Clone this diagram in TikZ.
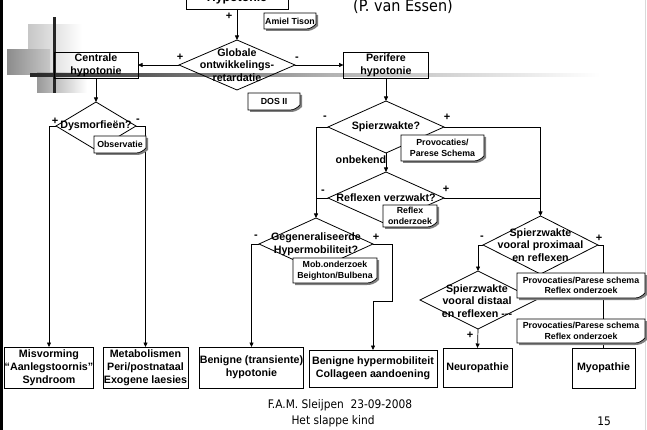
\documentclass[tikz,border=0pt]{standalone}
\usepackage{fontspec}
\setmainfont{Liberation Sans}
\newfontfamily\tah{DejaVu Sans Condensed}
\usetikzlibrary{shapes.geometric,arrows.meta,calc}
\tikzset{
 box/.style={draw, line width=0.8pt, align=center, font=\bfseries\fontsize{10.7}{12.8}\selectfont, inner sep=0pt, outer sep=0pt},
 dia/.style={draw, diamond, line width=0.8pt, inner sep=0pt, outer sep=0pt},
 dtxt/.style={align=center, font=\bfseries\fontsize{10.7}{12.8}\selectfont, inner sep=0pt},
 sign/.style={font=\bfseries\fontsize{11}{11}\selectfont, inner sep=0pt},
 conn/.style={line width=0.7pt},
 arr/.style={conn, -{Triangle[length=4.5pt,width=4pt]}},
 ntxt/.style={align=center, font=\bfseries\fontsize{8.8}{10.5}\selectfont, inner sep=0pt},
 foot/.style={font=\tah\fontsize{11.8}{13}\selectfont, inner sep=0pt},
}
\newcommand\mynote[6]{%
 \fill[black!50] (#2+2,#3+2) -- (#4+2,#3+2) -- (#4+2,#5-3) .. controls (#4-2,#5+1) and (#4-6,#5+2) .. (#4-10,#5+2) -- (#2+2,#5+2) -- cycle;
 \filldraw[fill=white, line width=0.7pt] (#2,#3) -- (#4,#3) -- (#4,#5-5) .. controls (#4-3,#5-2) and (#4-6,#5) .. (#4-10,#5) -- (#2,#5) -- cycle;
 \node[ntxt] (#1) at ({(#2+#4)/2},{(#3+#5)/2}) {#6};
}
\begin{document}
\begin{tikzpicture}[x=1pt,y=-1pt]
\path[use as bounding box] (0,0) rectangle (647,430);
\clip (0,0) rectangle (647,430);
\fill[white] (0,0) rectangle (647,430);
% slide template decoration
\fill[black] (0,0) rectangle (2.5,430);
\draw[black!15, line width=1pt] (645.5,0) -- (645.5,430);
\shade[left color=black!22, right color=white] (28,25) rectangle (82,75);
\shade[left color=black!45, right color=black!22] (7,50) rectangle (50,75);
\shade[left color=black!40, right color=white] (37,73) rectangle (87,93);
\shade[left color=black!85, right color=black!30] (30,73.5) rectangle (330,76.5);
\shade[left color=black!30, right color=white] (330,73.5) rectangle (600,76.5);
\fill[black!85] (52.5,17) rectangle (55.5,93);
% boxes
\node[box, minimum width=102, minimum height=30] (hyp) at (237,-6) {};
\node[dtxt, anchor=base, font=\bfseries\fontsize{12.3}{14}\selectfont] (hypt) at (237,1.5) {Hypotonie};
\node[box, minimum width=84, minimum height=26] (cen) at (96,65) {Centrale\\hypotonie};
\node[box, minimum width=85, minimum height=26] (per) at (386,65) {Perifere\\hypotonie};
\node[box, minimum width=86, minimum height=41] (mis) at (49,367.5) {Misvorming\\“Aanlegstoornis”\\Syndroom};
\node[box, minimum width=85, minimum height=41] (met) at (145.5,367.5) {Metabolismen\\Peri/postnataal\\Exogene laesies};
\node[box, minimum width=103, minimum height=41] (ben1) at (251.5,367.5) {Benigne (transiente)\\hypotonie};
\node[box, minimum width=128, minimum height=37] (ben2) at (373,368.5) {Benigne hypermobiliteit\\Collageen aandoening};
\node[box, minimum width=69, minimum height=39] (neu) at (477.5,367.5) {Neuropathie};
\node[box, minimum width=63, minimum height=40] (myo) at (603.5,368) {Myopathie};
% diamonds
\node[dia, minimum width=116, minimum height=50] (d1) at (237,65) {};
\node[dia, minimum width=80, minimum height=48] (d2) at (96,126) {};
\node[dia, minimum width=116, minimum height=52] (d3) at (386,127) {};
\node[dia, minimum width=116, minimum height=52] (d4) at (386,198) {};
\node[dia, minimum width=114, minimum height=52] (d5) at (316,244) {};
\node[dia, minimum width=115, minimum height=58] (d6) at (540.5,245) {};
\node[dia, minimum width=116, minimum height=58] (d7) at (478,300) {};
% connectors
\draw[arr] (hyp.south) -- (d1.north);
\draw[arr] (d1.west) -- (cen.east);
\draw[arr] (d1.east) -- (per.west);
\draw[arr] (cen.south) -- (d2.north);
\draw[arr] (d2.west) -| (mis.north);
\draw[arr] (d2.east) -| (met.north);
\draw[arr] (per.south) -- (d3.north);
\draw[arr] (d3.south) -- (d4.north);
\draw[arr] (d3.west) -| (d5.north);
\draw[conn] (d4.west) -- (d4.west -| d5.north);
\draw[arr] (d3.east) -| (d6.north);
\draw[conn] (d4.east) -- (d4.east -| d6.north);
\draw[arr] (d5.west) -| (ben1.north);
\coordinate (k1) at (392,301);
\draw[arr] (d5.east) -| (k1) -| (ben2.north);
\draw[arr] (d6.west) -| (d7.north);
\draw[conn] (d6.east) -| (myo.north);
\draw[arr] (d7.south) -- (neu.north);
% notes
\mynote{amiel}{264}{13}{316}{29}{Amiel Tison}
\mynote{dos}{248}{93}{300}{110}{DOS II}
\mynote{obs}{94}{136}{146}{153}{Observatie}
\mynote{prov1}{401}{135}{484}{161}{Provocaties/\\Parese Schema}
\mynote{refl}{383}{205}{437}{227}{Reflex\\onderzoek}
\mynote{mob}{293}{258}{377}{283}{Mob.onderzoek\\Beighton/Bulbena}
\mynote{prov2}{517}{273}{645}{298}{Provocaties/Parese schema\\Reflex onderzoek}
\mynote{prov3}{517}{319}{645}{343}{Provocaties/Parese schema\\Reflex onderzoek}
% diamond texts
\node[dtxt] (d1t) at (d1) {Globale\\ontwikkelings-\\retardatie};
\node[dtxt] (d2t) at (d2) {Dysmorfieën?};
\node[dtxt] (d3t) at (d3) {Spierzwakte?};
\node[dtxt] (d4t) at (d4) {Reflexen verzwakt?};
\node[dtxt] (d5t) at (d5) {Gegeneraliseerde\\Hypermobiliteit?};
\node[dtxt] (d6t) at (d6) {Spierzwakte\\vooral proximaal\\en reflexen};
\node[dtxt] (d7t) at (477,301) {Spierzwakte\\vooral distaal\\en reflexen -{}-{}-};
\node[dtxt] (onb) at (361,160) {onbekend};
% signs
\node[sign] (s1) at (229,16) {+};
\node[sign] (s2) at (180,57) {+};
\node[sign] (s3) at (297,59) {-};
\node[sign] (s4) at (55,121) {+};
\node[sign] (s5) at (138,121) {-};
\node[sign] (s6) at (325,118) {-};
\node[sign] (s7) at (447,117) {+};
\node[sign] (s8) at (323,192) {-};
\node[sign] (s9) at (446,189) {+};
\node[sign] (s10) at (256,237) {-};
\node[sign] (s11) at (376,237) {+};
\node[sign] (s12) at (482,238) {-};
\node[sign] (s13) at (599,238) {+};
\node[sign] (s14) at (470,335) {+};
% title and footer
\node[foot, font=\tah\fontsize{16}{18}\selectfont] (ttl) at (403,6) {(P. van Essen)};
\node[foot] (f1) at (340,405) {F.A.M. Sleijpen\ \ 23-09-2008};
\node[foot] (f2) at (333,421) {Het slappe kind};
\node[foot] (pg) at (604,421) {15};
\end{tikzpicture}
\end{document}
